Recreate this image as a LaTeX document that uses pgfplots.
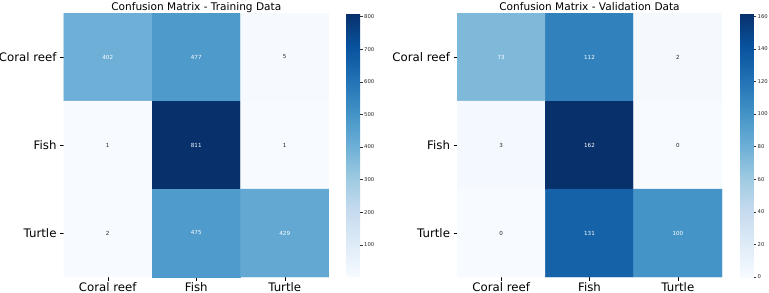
\documentclass[border=0pt]{standalone}
\usepackage{pgfplots}
\pgfplotsset{compat=1.18}
\usepackage{fontspec}
\setmainfont{DejaVu Sans}
\pgfplotsset{
  colormap={blues}{rgb255=(247,251,255) rgb255=(222,235,247) rgb255=(198,219,239) rgb255=(158,202,225) rgb255=(107,174,214) rgb255=(66,146,198) rgb255=(33,113,181) rgb255=(8,81,156) rgb255=(8,48,107)},
  cmstyle/.style={
    colormap name=blues,
    scale only axis,
    height=264bp,
    xmin=-0.5, xmax=2.5, ymin=-0.5, ymax=2.5,
    y dir=reverse,
    axis line style={draw=none},
    tick pos=left,
    tick align=outside,
    major tick length=3.5bp,
    tick style={black, line width=0.5pt},
    xtick={0,1,2}, ytick={0,1,2},
    xticklabels={Coral reef, Fish, Turtle},
    yticklabels={Coral reef, Fish, Turtle},
    ticklabel style={font=\fontsize{11.8}{13}\selectfont, text=black},
    xticklabel style={yshift=1.5bp},
    every axis title shift=0pt,
    title style={font=\fontsize{10.6}{12}\selectfont, at={(0.5,1)}, anchor=base, yshift=3bp},
    /pgf/number format/assume math mode=true,
    colorbar,
    colorbar style={
      at={(parent axis.north east)}, anchor=north west,
      scale only axis, width=13.5bp, height=264bp,
      axis line style={draw=none},
      ytick pos=right, tick align=outside,
      major tick length=2.5bp,
      tick style={black!80, line width=0.4pt},
      yticklabel style={font=\fontsize{5.3}{6}\selectfont, text=black!85, inner sep=1.5bp},
      /pgf/number format/assume math mode=true,
    },
  },
  wtext/.style={draw=none, mark=none, nodes near coords, point meta=explicit symbolic,
    nodes near coords style={anchor=center, font=\fontsize{5.6}{6}\selectfont, text=white}},
  dtext/.style={draw=none, mark=none, nodes near coords, point meta=explicit symbolic,
    nodes near coords style={anchor=center, font=\fontsize{5.6}{6}\selectfont, text=black!85}},
}
\begin{document}
\begin{tikzpicture}
\useasboundingbox (0,0) rectangle (769bp,293bp);
% Training
\begin{axis}[cmstyle, at={(63.5bp,16bp)}, anchor=south west, width=265.5bp,
  title={Confusion Matrix - Training Data},
  point meta min=1, point meta max=811,
  colorbar style={xshift=9bp, ytick={100,200,300,400,500,600,700,800}}]
\addplot[matrix plot*, mesh/cols=3, point meta=explicit] table[meta=c] {
x y c
0 0 402
1 0 477
2 0 5
0 1 1
1 1 811
2 1 1
0 2 2
1 2 475
2 2 429
};
\addplot[wtext] table[meta=c] {
x y c
0 0 402
1 0 477
1 1 811
1 2 475
2 2 429
};
\addplot[dtext] table[meta=c] {
x y c
2 0 5
0 1 1
2 1 1
0 2 2
};
\end{axis}
% Validation
\begin{axis}[cmstyle, at={(457bp,16bp)}, anchor=south west, width=265bp,
  title={Confusion Matrix - Validation Data},
  point meta min=0, point meta max=162,
  colorbar style={xshift=9.5bp, ytick={0,20,40,60,80,100,120,140,160}}]
\addplot[matrix plot*, mesh/cols=3, point meta=explicit] table[meta=c] {
x y c
0 0 73
1 0 112
2 0 2
0 1 3
1 1 162
2 1 0
0 2 0
1 2 131
2 2 100
};
\addplot[wtext] table[meta=c] {
x y c
0 0 73
1 0 112
1 1 162
1 2 131
2 2 100
};
\addplot[dtext] table[meta=c] {
x y c
2 0 2
0 1 3
2 1 0
0 2 0
};
\end{axis}
\end{tikzpicture}
\end{document}
